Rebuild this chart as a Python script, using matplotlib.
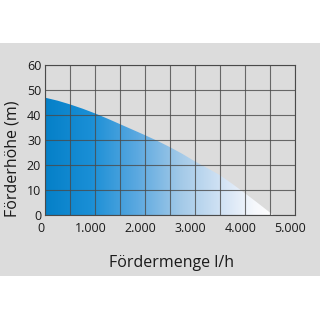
import matplotlib
matplotlib.use("Agg")
import matplotlib.pyplot as plt
import matplotlib.transforms as mtransforms
from matplotlib.colors import LinearSegmentedColormap
from matplotlib.patches import Rectangle
import numpy as np

# pump curve
flow = [0, 250, 500, 750, 1000, 1250, 1500, 1750, 2000, 2250, 2500, 2750,
        3000, 3250, 3500, 3750, 4000, 4250, 4570]
head = [47, 45.8, 44.3, 42.6, 40.7, 38.6, 36.4, 34.2, 32, 29.7, 27.2, 24.5,
        21.5, 18.8, 16, 12.5, 8.8, 5, 0]

x_ticks = [0, 1000, 2000, 3000, 4000, 5000]
x_labels = ["0", "1.000", "2.000", "3.000", "4.000", "5.000"]
y_ticks = [0, 10, 20, 30, 40, 50, 60]

plt.rcParams['font.family'] = ['Open Sans', 'DejaVu Sans']

fig = plt.figure(figsize=(3.2, 3.2), dpi=100)
fig.patch.set_facecolor("white")
fig.patches.append(Rectangle((0, 0.1375), 1, 0.728, transform=fig.transFigure,
                             facecolor="#dcdcdc", edgecolor="none", zorder=-10))

ax = fig.add_axes([0.1416, 0.328, 0.779, 0.468])
ax.set_facecolor("#dcdcdc")
ax.set_xlim(0, 5000)
ax.set_ylim(0, 60)

# blue-to-white gradient, clipped to the area under the curve
cmap = LinearSegmentedColormap.from_list(
    "pump", [(0.0, "#0580c8"), (0.2, "#1a8fd6"), (0.4, "#5aa8e0"),
             (0.6, "#a4cae8"), (0.8, "#d8e6f6"), (0.92, "#f6f8fc"), (1.0, "#ffffff")])
grad = np.linspace(0, 1, 256).reshape(1, -1)
poly = ax.fill_between(flow, head, 0, color="none", lw=0)
img = ax.imshow(grad, cmap=cmap, aspect="auto", extent=[0, 4570, 0, 60],
                origin="lower", zorder=1)
img.set_clip_path(poly.get_paths()[0], transform=ax.transData)

ax.set_yticks(y_ticks)
ax.set_xticks(x_ticks)
ax.set_xticklabels(x_labels)
ax.set_xticks(np.arange(500, 5000, 1000), minor=True)
ax.grid(True, which="both", color="#4a4a4a", lw=0.8, alpha=0.8, zorder=2)
ax.set_axisbelow(False)
ax.tick_params(which="both", length=0)
ax.tick_params(axis="x", labelsize=9, pad=5, colors="#1a1a1a")
ax.tick_params(axis="y", labelsize=9, pad=3, colors="#1a1a1a")
shift = mtransforms.ScaledTranslation(-4.5 / 100, 0, fig.dpi_scale_trans)
for lab in ax.get_xticklabels():
    lab.set_transform(lab.get_transform() + shift)
for s in ax.spines.values():
    s.set_color("#4a4a4a")
    s.set_linewidth(0.8)

fig.text(0.535, 0.178, "Fördermenge l/h", fontsize=11.5, ha="center", va="center",
         color="#1a1a1a")
fig.text(0.038, 0.503, "Förderhöhe (m)", fontsize=11.5, ha="center", va="center",
         rotation=90, color="#1a1a1a")

fig.savefig("out.png", dpi=100, facecolor=fig.get_facecolor())
